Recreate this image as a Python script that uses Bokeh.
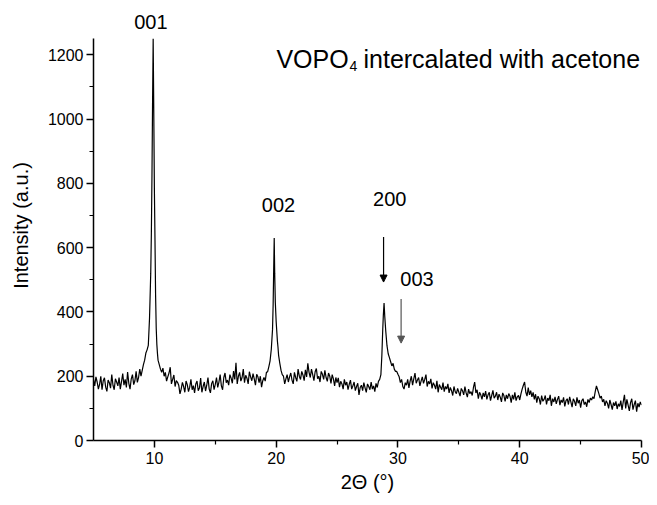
import numpy as np
from bokeh.plotting import figure
from bokeh.models import Range1d, FixedTicker, Arrow, NormalHead
from bokeh.core.properties import value
from bokeh.embed import file_html
from bokeh.resources import INLINE

STEP = 0.1

# ---- background segment A : 5.0 .. 9.3 (step 0.1)
bg_a_start = 5.0
bg_a = [
    190, 170, 198, 182, 160, 175, 200, 158, 186, 195,
    166, 153, 188, 180, 163, 205, 172, 158, 192, 182,
    170, 196, 160, 183, 208, 172, 190, 165, 213, 178,
    160, 192, 205, 174, 186, 215, 181, 196, 222, 200,
    218, 236, 250, 272,
]
# ---- peak (001)
pk001_x = [9.4, 9.5, 9.6, 9.7, 9.75, 9.8, 9.85, 9.9, 9.95, 10.0, 10.05, 10.1,
           10.15, 10.2, 10.25, 10.3, 10.4, 10.5, 10.6]
pk001_y = [282, 296, 380, 520, 640, 820, 1050, 1250, 1020, 780, 620, 450,
           350, 300, 272, 250, 236, 222, 212]
# ---- background segment B : 10.7 .. 19.2
bg_b_start = 10.7
bg_b = [
    225, 200, 212,
    185, 198, 210, 228, 176, 190, 204, 168, 186, 181,
    172, 145, 160, 181, 168, 150, 185, 174, 152, 166,
    190, 158, 171, 148, 176, 185, 155, 163, 194, 150,
    168, 182, 154, 172, 196, 160, 148, 177, 186, 158,
    175, 196, 165, 182, 205, 170, 158, 196, 210, 180,
    188, 172, 205, 194, 178, 216, 190, 242, 176, 200,
    212, 185, 196, 222, 180, 203, 194, 176, 214, 198,
    186, 208, 192, 172, 206, 198, 180, 200, 166, 186,
    196, 185, 212,
]
# ---- peak (002)
pk002_x = [19.3, 19.4, 19.5, 19.6, 19.7, 19.75, 19.8, 19.84, 19.88, 19.93, 20.0,
           20.05, 20.1, 20.15, 20.2, 20.3, 20.4, 20.5]
pk002_y = [214, 230, 248, 284, 345, 420, 540, 630, 520, 430, 370,
           340, 310, 290, 265, 240, 218, 205]
# ---- background segment C : 20.6 .. 28.5
bg_c_start = 20.6
bg_c = [
    200, 176, 192, 205,
    182, 198, 210, 188, 176, 212, 196, 184, 222, 200,
    190, 215, 204, 186, 220, 198, 240, 212, 196, 222,
    205, 186, 214, 224, 192, 200, 182, 215, 206, 190,
    218, 196, 184, 210, 200, 178, 205, 192, 170, 196,
    180, 195, 166, 184, 176, 160, 190, 172, 182, 158,
    175, 188, 160, 170, 182, 155, 168, 178, 142, 165,
    172, 155, 180, 164, 150, 176, 168, 158, 182, 160,
    170, 152, 178, 165, 184, 190,
]
# ---- peak (200)
pk200_x = [28.6, 28.68, 28.75, 28.8, 28.86, 28.92, 29.0, 29.1, 29.2, 29.3,
           29.4, 29.5, 29.6, 29.7, 29.8]
pk200_y = [205, 265, 344, 390, 428, 385, 340, 295, 270, 258,
           245, 232, 240, 222, 215]
# ---- background segment D : 29.9 .. 50.0
bg_d_start = 29.9
bg_d = [
    215,
    206, 198, 180, 190, 168, 160, 180, 172, 190, 164,
    185, 200, 172, 192, 210, 178, 188, 196, 170, 185,
    198, 178, 190, 205, 168, 184, 176, 192, 162, 180,
    172, 160, 186, 150, 174, 166, 158, 180, 152, 168,
    160, 176, 148, 165, 155, 140, 168, 152, 146, 162,
    150, 138, 162, 155, 142, 168, 148, 135, 160, 146,
    152, 140, 165, 182, 148, 158, 130, 150, 142, 128,
    148, 136, 154, 128, 142, 150, 124, 140, 156, 132,
    138, 150, 126, 144, 135, 120, 148, 140, 122, 142,
    130, 146, 138, 118, 142, 128, 150, 124, 136, 140,
    126, 145, 160, 172, 182, 150, 138, 165, 142, 155,
    136, 150, 128, 144, 118, 138, 130, 112, 140, 122,
    128, 140, 112, 132, 124, 142, 108, 130, 120, 136,
    114, 128, 138, 110, 126, 118, 134, 106, 124, 130,
    112, 136, 120, 104, 130, 122, 108, 134, 116, 126,
    102, 124, 130, 112, 120, 105, 128, 118, 132, 126,
    136, 130, 152, 170, 158, 146, 132, 138, 120, 128,
    108, 124, 116, 100, 126, 112, 96, 118, 108, 122,
    98, 114, 106, 124, 95, 120, 142, 100, 128, 110,
    92, 118, 130, 96, 112, 124, 90, 116, 104, 120,
    110,
]

peak_labels = ["001", "002", "200", "003"]
peak_label_x = [9.71, 20.19, 29.33, 31.56]
peak_label_y = [1301, 733, 750, 504]

x_ticks = [10, 20, 30, 40, 50]
x_minor = [15, 25, 35, 45]
y_ticks = [0, 200, 400, 600, 800, 1000, 1200]
y_minor = [100, 300, 500, 700, 900, 1100]


def grid(start, vals):
    return list(np.round(start + STEP * np.arange(len(vals)), 3))


xs = (grid(bg_a_start, bg_a) + pk001_x + grid(bg_b_start, bg_b) + pk002_x +
      grid(bg_c_start, bg_c) + pk200_x + grid(bg_d_start, bg_d))
ys = bg_a + pk001_y + bg_b + pk002_y + bg_c + pk200_y + bg_d

FONT = "Liberation Sans"

p = figure(width=649, height=497, output_backend="svg", toolbar_location=None,
           x_range=Range1d(5, 50), y_range=Range1d(0, 1338),
           min_border_left=93, min_border_right=8, min_border_top=10,
           min_border_bottom=57)
p.outline_line_color = None
p.grid.visible = False
p.background_fill_color = "white"
p.border_fill_color = "white"

p.line(xs, ys, line_color="black", line_width=1.2)

for ax in (p.xaxis[0], p.yaxis[0]):
    ax.axis_line_color = "black"
    ax.axis_line_width = 1.5
    ax.major_tick_line_color = "black"
    ax.minor_tick_line_color = "black"
    ax.major_tick_line_width = 1.5
    ax.minor_tick_line_width = 1.2
    ax.major_tick_in = 0
    ax.major_tick_out = 7
    ax.minor_tick_in = 0
    ax.minor_tick_out = 4
    ax.major_label_text_font = FONT
    ax.major_label_text_font_size = "16px"
    ax.major_label_text_color = "black"
    ax.axis_label_text_font = FONT
    ax.axis_label_text_font_size = "20px"
    ax.axis_label_text_font_style = "normal"
    ax.axis_label_text_color = "black"

xa = p.xaxis[0]
xa.ticker = FixedTicker(ticks=x_ticks, minor_ticks=x_minor)
xa.axis_label = "2\u0398 (\u00b0)"
xa.major_label_standoff = 4
xa.axis_label_standoff = 4

ya = p.yaxis[0]
ya.ticker = FixedTicker(ticks=y_ticks, minor_ticks=y_minor)
ya.bounds = (0, 1250)
ya.axis_label = "Intensity (a.u.)"
ya.major_label_standoff = 3
ya.axis_label_standoff = 13

p.text(x=peak_label_x, y=peak_label_y, text=peak_labels,
       text_font=value(FONT), text_font_size="20px", text_color="black",
       text_align="center", text_baseline="alphabetic")

# title with subscript
p.text(x=[20.02], y=[1187], text=["VOPO"], text_font=value(FONT),
       text_font_size="25px", text_color="black", text_align="left",
       text_baseline="alphabetic")
p.text(x=[26.02], y=[1164], text=["4"], text_font=value(FONT),
       text_font_size="14px", text_color="black", text_align="left",
       text_baseline="alphabetic")
p.text(x=[27.17], y=[1187], text=["intercalated with acetone"], text_font=value(FONT),
       text_font_size="25px", text_color="black", text_align="left",
       text_baseline="alphabetic")

p.add_layout(Arrow(end=NormalHead(size=7, fill_color="black", line_color="black", line_width=1),
                   x_start=28.82, y_start=633, x_end=28.82, y_end=493,
                   line_color="black", line_width=1.2))
p.add_layout(Arrow(end=NormalHead(size=7, fill_color="#555555", line_color="#555555", line_width=1),
                   x_start=30.26, y_start=440, x_end=30.26, y_end=303,
                   line_color="#555555", line_width=1.2))

open("out.html", "w").write(file_html(p, INLINE))
